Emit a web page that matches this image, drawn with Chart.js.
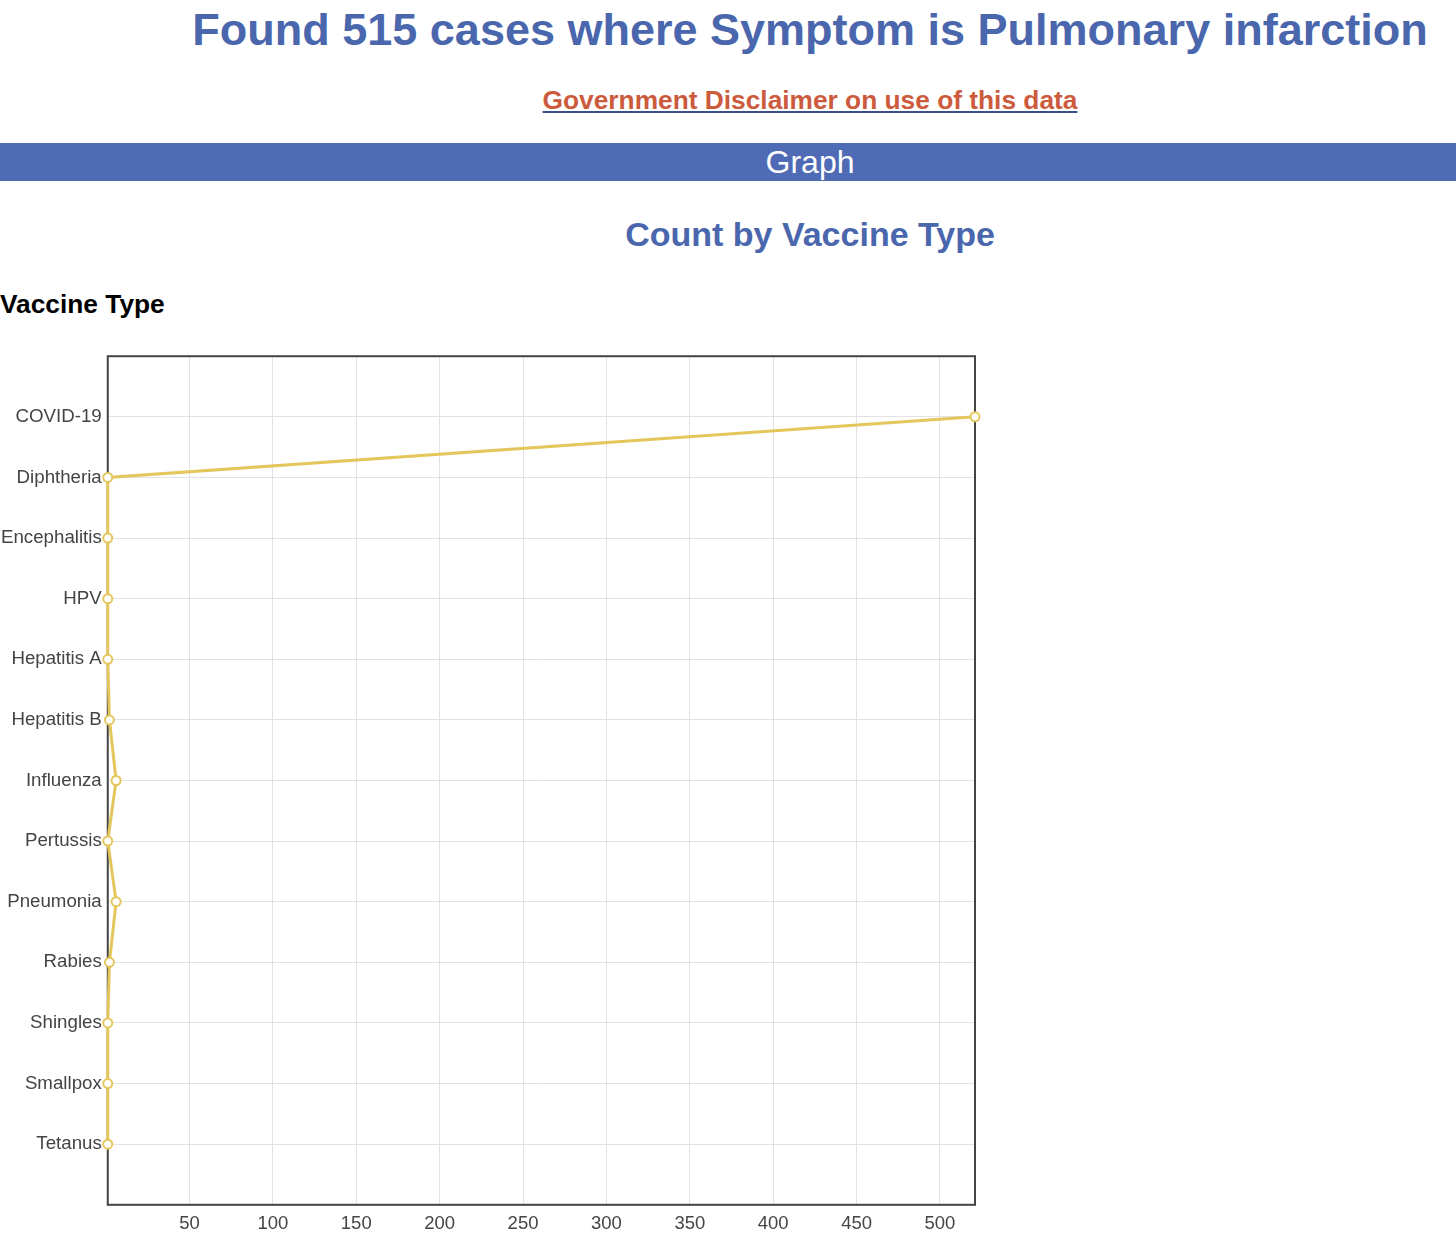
<!DOCTYPE html>
<html>
<head>
<meta charset="utf-8">
<script src="https://cdn.jsdelivr.net/npm/chart.js@4.4.0/dist/chart.umd.min.js"></script>
<style>
  body { margin:0; font-family:"Liberation Sans", Arial, sans-serif; background:#fff; }
  #page { position:relative; width:1456px; height:1248px; overflow:hidden; }
  .c { position:absolute; left:164px; right:0; text-align:center; }
  #title { top:4px; font-size:45px; font-weight:bold; color:#4a66ad; }
  #disc { top:85px; font-size:26.3px; font-weight:bold; color:#cc5b3e; }
  #disc span { text-decoration:underline; text-decoration-color:#3b4f8c; }
  #band { position:absolute; left:0; right:0; top:143px; height:38px; background:#4f6bb5; }
  #band div { position:absolute; left:164px; right:0; text-align:center; color:#fff; font-size:32px; line-height:38px; }
  #sub { top:215px; font-size:34px; font-weight:bold; color:#4a66ad; }
  #ylab { position:absolute; left:0; top:289px; font-size:26.3px; font-weight:bold; color:#000; }
  #wrap { position:absolute; left:-5px; top:339px; width:994px; height:904px; }
</style>
</head>
<body>
<div id="page">
  <div class="c" id="title">Found 515 cases where Symptom is Pulmonary infarction</div>
  <div class="c" id="disc"><span>Government Disclaimer on use of this data</span></div>
  <div id="band"><div>Graph</div></div>
  <div class="c" id="sub">Count by Vaccine Type</div>
  <div id="ylab">Vaccine Type</div>
  <div id="wrap"><canvas id="myChart"></canvas></div>
</div>
<script>
// vaccine types shown on the left axis
var vaccines = ["COVID-19", "Diphtheria", "Encephalitis", "HPV", "Hepatitis A", "Hepatitis B",
  "Influenza", "Pertussis", "Pneumonia", "Rabies", "Shingles", "Smallpox", "Tetanus"];
// case count per vaccine type
var counts = [521, 1, 1, 1, 1, 2, 6, 1, 6, 2, 1, 1, 1];
// labels along the bottom axis
var xTicks = [50, 100, 150, 200, 250, 300, 350, 400, 450, 500];

var points = [];
for (var i = 0; i < vaccines.length; i++) {
  points.push({ x: counts[i], y: i });
}

// dark frame round the plot area
var frame = {
  id: 'frame',
  beforeDatasetsDraw: function(chart) {
    var a = chart.chartArea, ctx = chart.ctx;
    ctx.save();
    ctx.strokeStyle = '#444';
    ctx.lineWidth = 2;
    ctx.strokeRect(a.left, a.top, a.right - a.left, a.bottom - a.top);
    ctx.restore();
  }
};

var ctx = document.getElementById('myChart').getContext('2d');
var myChart = new Chart(ctx, {
  type: 'line',
  data: {
    datasets: [{
      label: 'Count',
      data: points,
      borderColor: '#e3c65c',
      borderWidth: 3,
      backgroundColor: '#fff',
      pointBorderColor: '#e3c65c',
      pointBackgroundColor: '#fff',
      pointRadius: 4.5,
      pointBorderWidth: 2,
      tension: 0,
      clip: false
    }]
  },
  plugins: [frame],
  options: {
    responsive: true,
    maintainAspectRatio: false,
    animation: false,
    layout: { padding: { top: 10, right: 14 } },
    plugins: { legend: { display: false }, tooltip: { enabled: false } },
    scales: {
      x: {
        type: 'linear',
        min: Math.min.apply(null, counts),
        max: Math.max.apply(null, counts),
        afterBuildTicks: function(scale) {
          scale.ticks = xTicks.map(function(v){ return { value: v }; });
        },
        grid: { color: '#e2e2e2', drawTicks: false },
        border: { display: false },
        ticks: { color: '#444', padding: 8, font: { size: 18.5, family: 'Liberation Sans' } }
      },
      y: {
        type: 'linear',
        reverse: true,
        min: -1,
        max: vaccines.length,
        afterBuildTicks: function(scale) {
          var t = [];
          for (var k = -1; k <= vaccines.length; k++) t.push({ value: k });
          scale.ticks = t;
        },
        grid: { color: '#e2e2e2', drawTicks: false },
        border: { display: false },
        ticks: {
          color: '#444', padding: 6, autoSkip: false,
          font: { size: 18.7, family: 'Liberation Sans' },
          callback: function(v) { return vaccines[v] !== undefined ? vaccines[v] : ''; }
        }
      }
    }
  }
});
</script>
</body>
</html>
